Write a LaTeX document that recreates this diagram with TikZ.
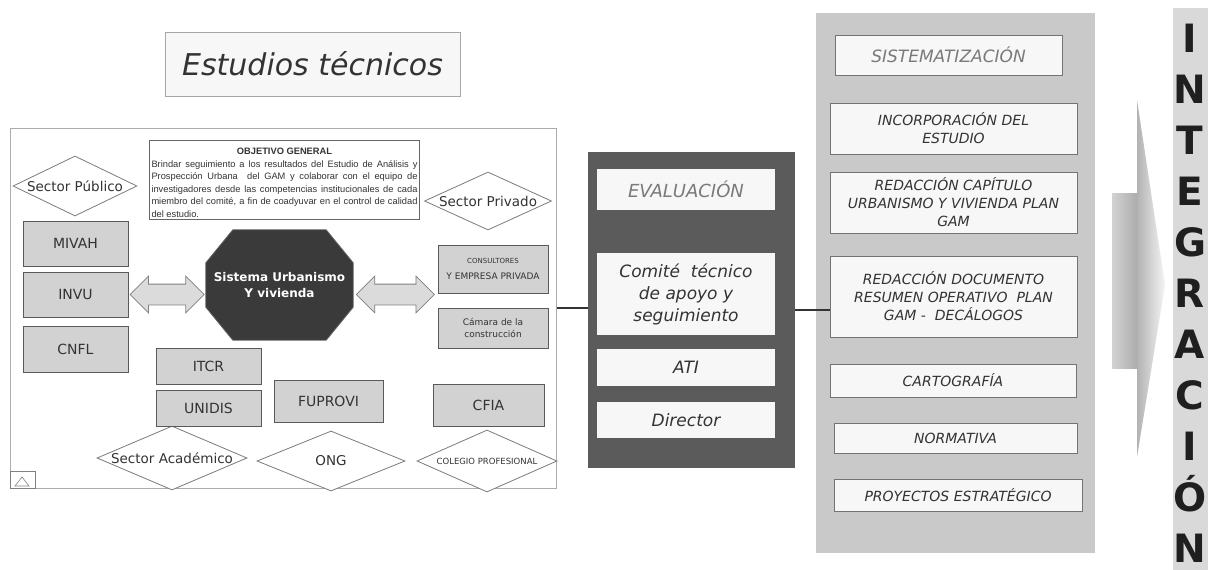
\documentclass[tikz,border=0pt]{standalone}
\usepackage{fontspec}
\setmainfont{DejaVu Sans}
\newfontfamily\arialfont{Liberation Sans}
\usetikzlibrary{shapes.geometric,shapes.arrows,backgrounds,calc}

\definecolor{cajagris}{HTML}{D2D2D2}
\definecolor{bordegris}{HTML}{5A5A5A}
\definecolor{octgris}{HTML}{3A3A3A}
\definecolor{evalgris}{HTML}{5B5B5B}
\definecolor{sistgris}{HTML}{C9C9C9}
\definecolor{integris}{HTML}{D9D9D9}
\definecolor{casiblanco}{HTML}{F7F7F7}
\definecolor{textogris}{HTML}{7A7A7A}
\definecolor{textoosc}{HTML}{333333}

\begin{document}
\begin{tikzpicture}[x=1pt,y=-1pt,
    caja/.style={draw=bordegris, fill=cajagris, line width=1pt, inner sep=0pt,
      text=textoosc, font=\fontsize{14}{16}\selectfont},
    sector/.style={diamond, draw=bordegris!80, fill=white, line width=0.8pt, inner sep=0pt},
    sectortxt/.style={text=textoosc, font=\fontsize{13.5}{15}\selectfont},
    dblflecha/.style={double arrow, draw=gray, fill=cajagris!80, line width=0.8pt,
      inner sep=10pt, double arrow head extend=8pt},
    blanca/.style={fill=casiblanco, inner sep=0pt, align=center, text=textoosc,
      font=\fontsize{17}{22}\selectfont\itshape},
    sistcaja/.style={draw=gray!90!black, fill=casiblanco, line width=0.8pt, inner sep=0pt,
      align=center, text=textoosc, font=\fontsize{14}{18}\selectfont\itshape},
    conector/.style={draw=textoosc, line width=2.5pt},
    letra/.style={anchor=base, text=black!88, font=\fontsize{39}{40}\selectfont\bfseries}]

    \useasboundingbox (0,0) rectangle (1208,570);
    \begin{scope}[on background layer]
      \fill[white] (0,0) rectangle (1208,570);
    \end{scope}

    % Titulo
    \node[draw=gray!70, fill=casiblanco, line width=0.8pt, minimum width=295, minimum height=64,
      text=textoosc, font=\fontsize{30}{32}\selectfont\itshape] (tit) at (312.5,64) {Estudios técnicos};

    % Marco estudios tecnicos
    \node[draw=gray!65, line width=1pt, minimum width=546, minimum height=360] (marco) at (283,308) {};
    \draw[gray, line width=0.6pt] (10,471) rectangle (35,488);
    \draw[gray, line width=0.6pt] (15,486) -- (22,477) -- (29,486) -- cycle;

    % Objetivo general
    \node[draw=gray!80!black, line width=0.8pt, inner sep=2pt, text width=266, align=justify,
      text=textoosc, font=\arialfont\fontsize{9.3}{12.5}\selectfont] (obj) at (284.5,180)
      {\par\centerline{\textbf{OBJETIVO GENERAL}}\noindent
       Brindar seguimiento a los resultados del Estudio de Análisis y\linebreak
       Prospección Urbana\ \ del GAM y colaborar con el equipo de\linebreak
       investigadores desde las competencias institucionales de cada\linebreak
       miembro del comité, a fin de coadyuvar en el control de calidad\linebreak
       del estudio.};

    % Sectores
    \node[sector, minimum width=124, minimum height=60, label={[sectortxt]center:Sector Público}] (pub) at (75,186) {};
    \node[sector, minimum width=127, minimum height=58, label={[sectortxt]center:Sector Privado}] (priv) at (488,201) {};
    \node[sector, minimum width=150, minimum height=64, label={[sectortxt]center:Sector Académico}] (acad) at (172,458) {};
    \node[sector, minimum width=148, minimum height=60, label={[sectortxt]center:ONG}] (ong) at (331,461) {};
    \node[sector, minimum width=140, minimum height=62,
      label={[text=textoosc, font=\fontsize{8.5}{10}\selectfont]center:COLEGIO PROFESIONAL}] (colegio) at (487,461) {};

    % Instituciones
    \node[caja, minimum width=105, minimum height=45] (mivah) at (75.5,243.5) {MIVAH};
    \node[caja, minimum width=105, minimum height=45] (invu) at (75.5,294.5) {INVU};
    \node[caja, minimum width=105, minimum height=46] (cnfl) at (75.5,349) {CNFL};
    \node[caja, minimum width=105, minimum height=36] (itcr) at (208.5,366) {ITCR};
    \node[caja, minimum width=105, minimum height=36] (unidis) at (208.5,408) {UNIDIS};
    \node[caja, minimum width=109, minimum height=42] (fuprovi) at (328.5,401) {FUPROVI};
    \node[caja, minimum width=110, minimum height=48, align=center] (consul) at (493,269)
      {{\fontsize{7}{9}\selectfont CONSULTORES}\\{\fontsize{9}{11}\selectfont Y EMPRESA PRIVADA}};
    \node[caja, minimum width=110, minimum height=40, align=center, font=\fontsize{9}{12}\selectfont] (camara) at (493,328)
      {Cámara de la\\construcción};
    \node[caja, minimum width=111, minimum height=42] (cfia) at (488.5,405) {CFIA};

    % Sistema urbanismo y vivienda
    \node[minimum width=147, minimum height=110, align=center, text=white,
      font=\fontsize{12}{16}\selectfont\bfseries] (sis) at (279.5,285) {Sistema Urbanismo\\Y vivienda};
    \begin{scope}[on background layer]
      \filldraw[fill=octgris, draw=black!60, line width=0.8pt]
        ($(sis.north west)+(27,0)$) -- ($(sis.north east)+(-27,0)$) -- ($(sis.north east)+(0,33)$)
        -- ($(sis.south east)+(0,-33)$) -- ($(sis.south east)+(-27,0)$) -- ($(sis.south west)+(27,0)$)
        -- ($(sis.south west)+(0,-33)$) -- ($(sis.north west)+(0,33)$) -- cycle;
    \end{scope}
    \path (invu.east) -- (invu.east -| sis.west) node[midway, dblflecha, minimum height=74] (fl1) {};
    \path (invu.east -| sis.east) -- (invu.east -| consul.west) node[midway, dblflecha, minimum height=78] (fl2) {};

    % Evaluacion
    \node[fill=evalgris, minimum width=207, minimum height=316] (evalp) at (691.5,310) {};
    \node[blanca, minimum width=178, minimum height=41, text=textogris, font=\fontsize{18}{22}\selectfont\itshape]
      (evalua) at (686,189.5) {EVALUACIÓN};
    \node[blanca, minimum width=178, minimum height=82] (comite) at (686,294) {Comité\ \ técnico\\de apoyo y\\seguimiento};
    \node[blanca, minimum width=178, minimum height=37] (ati) at (686,367.5) {ATI};
    \node[blanca, minimum width=178, minimum height=36] (director) at (686,420) {Director};

    % Sistematizacion
    \node[fill=sistgris, minimum width=279, minimum height=540] (sistp) at (955.5,283) {};
    \node[sistcaja, minimum width=227, minimum height=40, text=textogris, font=\fontsize{17}{20}\selectfont\itshape]
      (sistema) at (948.5,55) {SISTEMATIZACIÓN};
    \node[sistcaja, minimum width=247, minimum height=51] (incorp) at (953.5,128.5) {INCORPORACIÓN DEL\\ESTUDIO};
    \node[sistcaja, minimum width=247, minimum height=61] (capitulo) at (953.5,202.5)
      {REDACCIÓN CAPÍTULO\\URBANISMO Y VIVIENDA PLAN\\GAM};
    \node[sistcaja, minimum width=247, minimum height=81] (doc) at (953.5,296.5)
      {REDACCIÓN DOCUMENTO\\RESUMEN OPERATIVO\ \ PLAN\\GAM -\ \ DECÁLOGOS};
    \node[sistcaja, minimum width=246, minimum height=33] (carto) at (953,380.5) {CARTOGRAFÍA};
    \node[sistcaja, minimum width=243, minimum height=30] (norma) at (955.5,438) {NORMATIVA};
    \node[sistcaja, minimum width=248, minimum height=32] (proy) at (958,495) {PROYECTOS ESTRATÉGICO};

    % Conectores
    \draw[conector] (marco.east) -- (marco.east -| evalp.west);
    \draw[conector] (evalp.east) -- (evalp.east -| doc.west);

    % Flecha de integracion
    \shade[left color=gray!35, right color=gray!65] (1112,193) rectangle (1137,368);
    \shade[left color=gray!60, right color=gray!8] (1137,100) -- (1165,285) -- (1137,457) -- cycle;

    % Integracion
    \node[fill=integris, minimum width=35, minimum height=562, inner sep=0pt] (franja) at (1190.5,289) {};
    \foreach \l [count=\i from 0] in {I,N,T,E,G,R,A,C,I,Ó,N}
      \node[letra] (l\i) at (1190,52+51*\i) {\l};
\end{tikzpicture}
\end{document}
